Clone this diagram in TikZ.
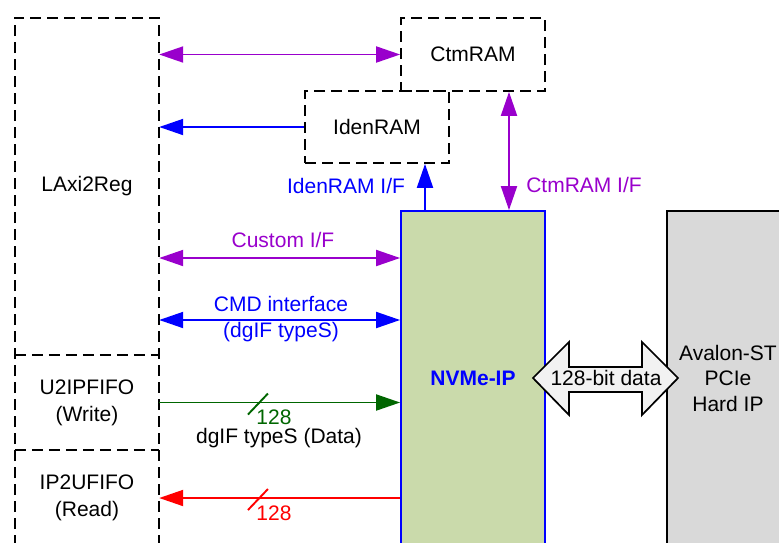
\documentclass[tikz,border=0pt]{standalone}
\usepackage{fontspec}
\setmainfont{Liberation Sans}
\usetikzlibrary{arrows.meta}
\definecolor{ipurple}{RGB}{153,0,204}
\definecolor{igreen}{RGB}{0,102,0}
\definecolor{nvmefill}{RGB}{202,218,171}
\definecolor{hipgray}{RGB}{217,217,217}
\definecolor{fatfill}{RGB}{242,242,242}

\begin{document}
\begin{tikzpicture}[x=1pt,y=-1pt,
  font=\fontsize{21}{27}\selectfont,
  >={Triangle[length=24pt,width=16pt]},
  wire/.style={line width=1.9pt},
  dashbox/.style={draw=black,line width=1.7pt,dash pattern=on 11pt off 6pt},
  blk/.style={inner sep=0pt,align=center},
  lbl/.style={inner sep=0pt,align=center}]
\useasboundingbox (0,0) rectangle (779,542);
\begin{scope}
\clip (0,0) rectangle (779,542);

% register / FIFO column
\node[blk,minimum width=144pt,minimum height=337pt] (laxi) at (87,186.5) {LAxi2Reg};
\node[blk,minimum width=144pt,minimum height=95pt] (u2ip) at (87,402.5) {U2IPFIFO\\(Write)};
\node[blk,minimum width=144pt,minimum height=96pt] (ip2u) at (87,498) {IP2UFIFO\\(Read)};
\draw[dashbox] (ip2u.south west) -- (laxi.north west) -- (laxi.north east) -- (ip2u.south east);
\draw[dashbox] (laxi.south west) -- (laxi.south east);
\draw[dashbox] (u2ip.south west) -- (u2ip.south east);

% RAM blocks
\node[blk,dashbox,minimum width=144pt,minimum height=73pt] (ctm) at (473,54.5) {CtmRAM};
\node[blk,dashbox,minimum width=144pt,minimum height=72pt] (iden) at (377,127) {IdenRAM};

% IP cores
\node[blk,draw=blue,line width=1.8pt,fill=nvmefill,text=blue,font=\fontsize{21}{26}\selectfont\bfseries,
      minimum width=144pt,minimum height=334pt] (nvme) at (473,378) {NVMe-IP};
\node[blk,draw=black,line width=1.8pt,fill=hipgray,minimum width=122pt,minimum height=334pt] (hip) at (728,378) {};
\node[lbl,font=\fontsize{21}{25.5}\selectfont] (hiptext) at (728,378) {Avalon-ST\\PCIe\\Hard IP};

% interfaces
\draw[wire,ipurple,<->] (laxi.east |- ctm.west) -- (ctm.west);
\draw[wire,blue,->] (iden.west) -- (laxi.east |- iden.west);
\draw[wire,blue,->] (425,0 |- nvme.north) -- (425,0 |- iden.south);
\draw[wire,ipurple,<->] (509,0 |- ctm.south) -- (509,0 |- nvme.north);
\draw[wire,ipurple,<->] (laxi.east |- 0,258) -- (nvme.west |- 0,258);
\draw[wire,blue,<->] (laxi.east |- 0,320) -- (nvme.west |- 0,320);
\draw[wire,igreen,->] (u2ip.east) -- coordinate[pos=0.41] (gcut) (nvme.west |- u2ip.east);
\draw[wire,igreen] (gcut) +(-10,12) -- +(10,-9);
\draw[wire,red,->] (nvme.west |- ip2u.east) -- coordinate[pos=0.59] (rcut) (ip2u.east);
\draw[wire,red] (rcut) +(-10,12) -- +(10,-9);

% interface labels
\node[lbl,text=blue] (idenlbl) at (346,186) {IdenRAM I/F};
\node[lbl,text=ipurple] (ctmlbl) at (584,185) {CtmRAM I/F};
\node[lbl,text=ipurple] (custlbl) at (283,240) {Custom I/F};
\node[lbl,text=blue,font=\fontsize{21}{26}\selectfont] (cmdlbl) at (281,319) {CMD interface\\(dgIF typeS)};
\node[lbl] (datalbl) at (279,438) {dgIF typeS (Data)};
\node[lbl,text=igreen] (g128) at (274,417) {128};
\node[lbl,text=red] (r128) at (274,513) {128};

% PCIe data bus
\draw[line width=1.7pt,fill=fatfill] (533,378) -- (569,342) -- (569,367) -- (642,367) -- (642,342)
  -- (678,378) -- (642,415) -- (642,392) -- (569,392) -- (569,415) -- cycle;
\node[lbl] (bus) at (606,378) {128-bit data};
\end{scope}
\end{tikzpicture}
\end{document}
